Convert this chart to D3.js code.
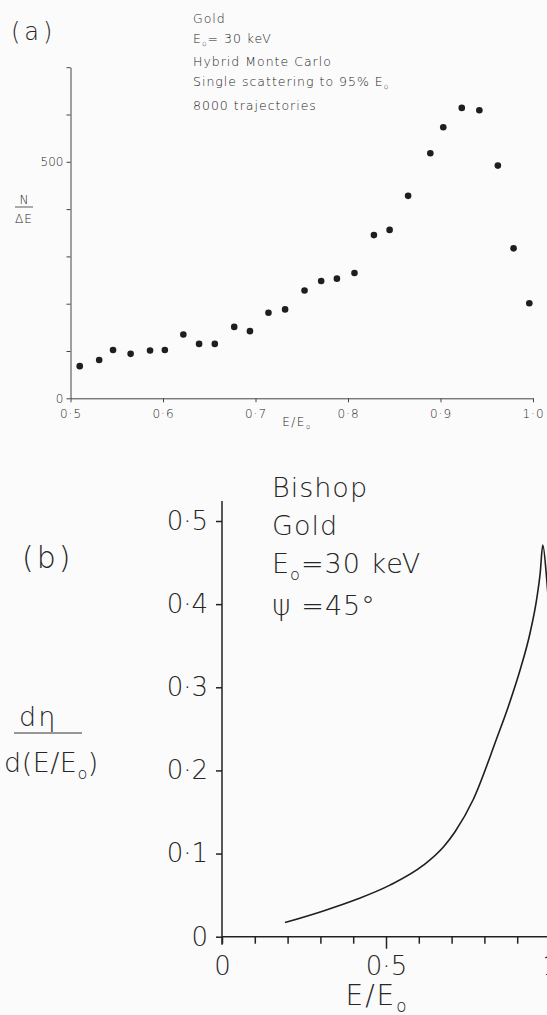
<!DOCTYPE html>
<html>
<head>
<meta charset="utf-8">
<script src="https://cdn.jsdelivr.net/npm/d3@7"></script>
<style>
  body { margin: 0; background: #fbfbfb; }
  svg { display: block; }
  text { font-family: "DejaVu Sans", "Open Sans", sans-serif; font-weight: 200; fill: #262626; }
  .axis-a { color: #333; }
  .axis-b { color: #222; }
  .axis-a path, .axis-a line { stroke: #444; stroke-width: 1; }
  .axis-b path, .axis-b line { stroke: #222; stroke-width: 1.5; }
</style>
</head>
<body>
<svg id="chart" width="547" height="1015"></svg>
<script>
// (a) hybrid Monte Carlo, N/dE against E/Eo
const mcEnergy = [0.510, 0.531, 0.546, 0.565, 0.586, 0.602, 0.622, 0.639, 0.656, 0.677, 0.694,
                  0.714, 0.732, 0.753, 0.771, 0.788, 0.807, 0.828, 0.845, 0.865, 0.889, 0.903,
                  0.923, 0.942, 0.962, 0.979, 0.996];
const mcCounts = [68, 81, 102, 94, 101, 102, 135, 115, 115, 151, 142,
                  181, 188, 228, 248, 253, 265, 345, 356, 428, 518, 573,
                  614, 609, 492, 317, 201];
const mcXTicks = [0.5, 0.6, 0.7, 0.8, 0.9, 1.0];
const mcYTicks = [0, 100, 200, 300, 400, 500, 600, 700];
const mcYLabels = [0, 500];
const mcNotes = [
    [["Gold"]],
    [["E"], ["o", "sub"], ["= 30 keV"]],
    [["Hybrid Monte Carlo"]],
    [["Single scattering to 95% E"], ["o", "sub"]],
    [["8000 trajectories"]]
];

// (b) Bishop curve, dη/d(E/Eo)
const bishopEnergy = [0.192, 0.309, 0.411, 0.512, 0.614, 0.675, 0.710, 0.766, 0.838,
                      0.873, 0.909, 0.939, 0.959, 0.970, 0.978, 0.991, 1.0];
const bishopYield = [0.017, 0.031, 0.045, 0.062, 0.086, 0.108, 0.126, 0.165, 0.239,
                     0.277, 0.321, 0.365, 0.405, 0.437, 0.471, 0.425, 0.38];
const bishopXTicks = [0, 0.1, 0.2, 0.3, 0.4, 0.5, 0.6, 0.7, 0.8, 0.9, 1.0];
const bishopXLabels = [0, 0.5, 1];
const bishopYTicks = [0, 0.1, 0.2, 0.3, 0.4, 0.5];
const bishopNotes = [
    [["Bishop"]],
    [["Gold"]],
    [["E"], ["o", "sub"], ["=30 keV"]],
    [["ψ", "psi"], [" =45°"]]
];

const dot = d => d3.format(".1f")(d).replace(".", "·");

// write a line made of pieces, "sub" pieces are the little o under E
function addText(g, parts, x, y, size, spacing) {
    const t = g.append("text")
        .attr("x", x)
        .attr("y", y)
        .style("font-size", size + "px")
        .style("letter-spacing", spacing + "px");
    let shifted = false;
    parts.forEach(p => {
        const s = t.append("tspan").text(p[0]);
        if (p[1] === "sub") {
            s.style("font-size", (size * 0.6) + "px").attr("dy", size * 0.25);
            shifted = true;
        } else {
            if (p[1] === "psi") s.style("font-size", (size * 1.05) + "px");
            if (shifted) { s.attr("dy", -size * 0.25); shifted = false; }
        }
    });
    return t;
}

function Draw_monte_carlo() {
    const svg = d3.select("#chart");
    const g = svg.append("g");

    const x = d3.scaleLinear()
        .domain([0.5, 1.0])
        .range([70.5, 533]);

    const y = d3.scaleLinear()
        .domain([0, 700])
        .range([398.3, 67.2]);

    const xAxis = d3.axisBottom(x)
        .tickValues(mcXTicks)
        .tickSize(4)
        .tickSizeOuter(0)
        .tickFormat(dot);

    const yAxis = d3.axisLeft(y)
        .tickValues(mcYTicks)
        .tickSize(4)
        .tickSizeOuter(0)
        .tickPadding(3)
        .tickFormat(d => mcYLabels.includes(d) ? d : "");

    g.append("g")
        .attr("class", "axis-a")
        .attr("transform", `translate(0,${y(0)})`)
        .call(xAxis)
        .call(a => a.selectAll("text")
            .attr("dy", null).attr("y", 20)
            .style("font-size", "12px").style("letter-spacing", "1px")
            .attr("font-family", null));

    g.append("g")
        .attr("class", "axis-a")
        .attr("transform", `translate(${x(0.5)},0)`)
        .call(yAxis)
        .call(a => a.selectAll("text")
            .style("font-size", "12px").attr("font-family", null));

    g.selectAll("circle")
        .data(mcEnergy)
        .enter().append("circle")
        .attr("cx", d => x(d))
        .attr("cy", (d, i) => y(mcCounts[i]))
        .attr("r", 3.3)
        .attr("fill", "#1e1e1e");

    // labels
    addText(g, [["(a)"]], 11, 40, 24, 4);

    const base = [23, 42.5, 66, 86, 109.5];
    mcNotes.forEach((n, i) => {
        addText(g, n, 193, base[i], 12.5, 1);
    });

    g.append("text").attr("x", 24).attr("y", 204).attr("text-anchor", "middle")
        .style("font-size", "12px").text("N");
    g.append("line").attr("x1", 15).attr("x2", 33).attr("y1", 207).attr("y2", 207)
        .attr("stroke", "#333").attr("stroke-width", 0.8);
    g.append("text").attr("x", 24).attr("y", 223).attr("text-anchor", "middle")
        .style("font-size", "12px").style("letter-spacing", "1px").text("ΔE");

    const xl = addText(g, [["E/E"], ["o", "sub"]], 297, 426, 12, 1.5);
    xl.attr("text-anchor", "middle");
}

function Draw_bishop() {
    const svg = d3.select("#chart");
    const g = svg.append("g");

    const x = d3.scaleLinear()
        .domain([0, 1])
        .range([222, 550]);

    const y = d3.scaleLinear()
        .domain([0, 0.5])
        .range([936.7, 521]);

    const xAxis = d3.axisBottom(x)
        .tickValues(bishopXTicks)
        .tickSize(7)
        .tickSizeOuter(0)
        .tickFormat(d => bishopXLabels.includes(d) ? d3.format("~g")(d).replace(".", "·") : "");

    const yAxis = d3.axisLeft(y)
        .tickValues(bishopYTicks)
        .tickSize(6)
        .tickSizeOuter(0)
        .tickPadding(8)
        .tickFormat(d => d === 0 ? "0" : dot(d));

    const gx = g.append("g")
        .attr("class", "axis-b")
        .attr("transform", `translate(0,${y(0)})`)
        .call(xAxis);
    gx.select(".domain").attr("d", `M${x(0)},0H${x(1) + 10}`);
    gx.selectAll(".tick line").filter(d => d === 0.5).attr("y2", 12);
    gx.selectAll("text")
        .attr("dy", null).attr("y", 38)
        .style("font-size", "26px").attr("font-family", null);

    const gy = g.append("g")
        .attr("class", "axis-b")
        .attr("transform", `translate(${x(0)},0)`)
        .call(yAxis);
    // axis runs a bit past 0.5 and crosses below the origin
    gy.select(".domain").attr("d", `M0,${y(0) + 8}V${y(0.524)}`);
    gy.selectAll("text")
        .style("font-size", "26px").attr("font-family", null);

    const line = d3.line()
        .x(d => x(d[0]))
        .y(d => y(d[1]))
        .curve(d3.curveMonotoneX);

    g.append("path")
        .datum(bishopEnergy.map((e, i) => [e, bishopYield[i]]))
        .attr("d", line)
        .attr("fill", "none")
        .attr("stroke", "#1e1e1e")
        .attr("stroke-width", 1.6);

    // labels
    addText(g, [["(b)"]], 22, 568, 30, 3);

    const base = [497, 535, 573, 615];
    bishopNotes.forEach((n, i) => {
        addText(g, n, 272, base[i], 27, 1);
    });

    addText(g, [["dη"]], 19, 726, 27, 2);
    g.append("line").attr("x1", 14).attr("x2", 82).attr("y1", 733).attr("y2", 733)
        .attr("stroke", "#333").attr("stroke-width", 1.2);
    addText(g, [["d(E/E"], ["o", "sub"], [")"]], 4, 772, 27, 0.5);

    const xl = addText(g, [["E/E"], ["o", "sub"]], 377, 1005, 28, 2);
    xl.attr("text-anchor", "middle");
}

Draw_monte_carlo();
Draw_bishop();
</script>
</body>
</html>
